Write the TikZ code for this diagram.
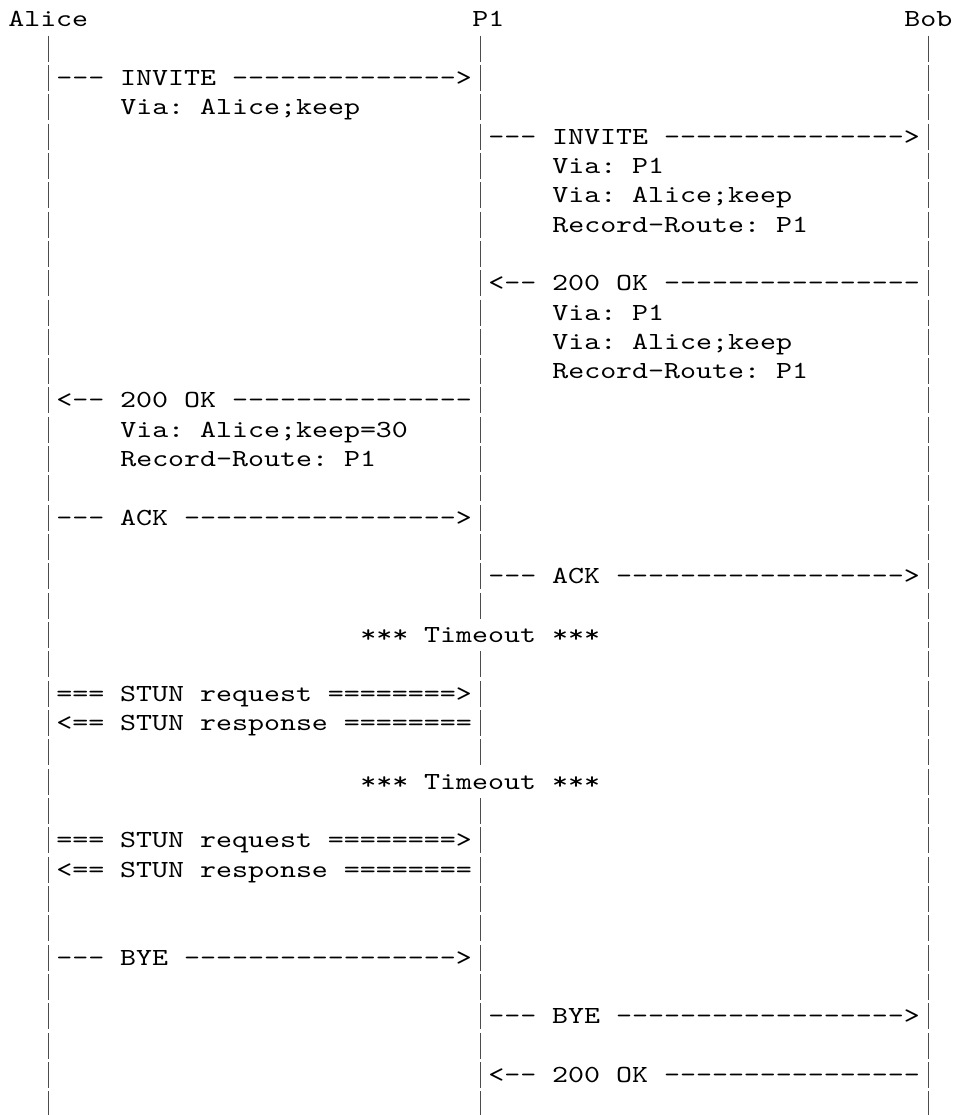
\documentclass[tikz,border=0pt]{standalone}
\usepackage{fontspec}
\setmonofont{lmmono10-regular.otf}[FakeStretch=1.24]
\usepackage{tikz}

% grid of the character cells: column -> x, row -> baseline y
\newcommand{\gx}[1]{8.3+16*(#1)}
\newcommand{\gy}[1]{-26.7-29.33*(#1)}

\begin{document}
\begin{tikzpicture}[
    x=1pt, y=1pt,
    txt/.style={font=\ttfamily\fontsize{24.55}{29.33}\selectfont\frenchspacing, anchor=base west, inner sep=0pt, outer sep=0pt},
    lifeline/.style={line width=1.5pt, draw=black!70, dash pattern=on 26pt off 3.33pt}
]
    \useasboundingbox (0,0) rectangle (956,-1115);

    % Heads
    \node[txt] (alice) at ({\gx{0}},{\gy{0}})  {Alice};
    \node[txt] (pone)  at ({\gx{29}},{\gy{0}}) {P1};
    \node[txt] (bob)   at ({\gx{56}},{\gy{0}}) {Bob};

    % Lifelines (P1 is broken where the timeouts cross it)
    \coordinate (alice-top) at ({\gx{2.5}},{\gy{1}+20.5});
    \coordinate (alice-end) at ({\gx{2.5}},-1115);
    \coordinate (bob-top)   at ({\gx{57.5}},{\gy{1}+20.5});
    \coordinate (bob-end)   at ({\gx{57.5}},-1115);
    \coordinate (pone-top)  at ({\gx{29.5}},{\gy{1}+20.5});
    \coordinate (pone-cut1) at ({\gx{29.5}},{\gy{20}-5.5});
    \coordinate (pone-mid)  at ({\gx{29.5}},{\gy{22}+20.5});
    \coordinate (pone-cut2) at ({\gx{29.5}},{\gy{25}-5.5});
    \coordinate (pone-low)  at ({\gx{29.5}},{\gy{27}+20.5});
    \coordinate (pone-end)  at ({\gx{29.5}},-1115);
    \draw[lifeline] (alice-top) -- (alice-end);
    \draw[lifeline] (bob-top)   -- (bob-end);
    \draw[lifeline] (pone-top)  -- (pone-cut1);
    \draw[lifeline] (pone-mid)  -- (pone-cut2);
    \draw[lifeline] (pone-low)  -- (pone-end);

    % INVITE
    \node[txt] (invite1) at ({\gx{3}},{\gy{2}})  {--- INVITE -------------->};
    \node[txt] (via1)    at ({\gx{7}},{\gy{3}})  {Via: Alice;keep};
    \node[txt] (invite2) at ({\gx{30}},{\gy{4}}) {--- INVITE --------------->};
    \node[txt] (via2)    at ({\gx{34}},{\gy{5}}) {Via: P1};
    \node[txt] (via3)    at ({\gx{34}},{\gy{6}}) {Via: Alice;keep};
    \node[txt] (rr1)     at ({\gx{34}},{\gy{7}}) {Record-Route: P1};

    % 200 OK
    \node[txt] (ok1)  at ({\gx{30}},{\gy{9}})  {<-- 200 OK ----------------};
    \node[txt] (via4) at ({\gx{34}},{\gy{10}}) {Via: P1};
    \node[txt] (via5) at ({\gx{34}},{\gy{11}}) {Via: Alice;keep};
    \node[txt] (rr2)  at ({\gx{34}},{\gy{12}}) {Record-Route: P1};
    \node[txt] (ok2)  at ({\gx{3}},{\gy{13}})  {<-- 200 OK ---------------};
    \node[txt] (via6) at ({\gx{7}},{\gy{14}})  {Via: Alice;keep=30};
    \node[txt] (rr3)  at ({\gx{7}},{\gy{15}})  {Record-Route: P1};

    % ACK
    \node[txt] (ack1) at ({\gx{3}},{\gy{17}})  {--- ACK ----------------->};
    \node[txt] (ack2) at ({\gx{30}},{\gy{19}}) {--- ACK ------------------>};

    % Keep-alive
    \node[txt] (tmo1)     at ({\gx{22}},{\gy{21}}) {*** Timeout ***};
    \node[txt] (stunreq1) at ({\gx{3}},{\gy{23}})  {=== STUN request ========>};
    \node[txt] (stunres1) at ({\gx{3}},{\gy{24}})  {<== STUN response ========};
    \node[txt] (tmo2)     at ({\gx{22}},{\gy{26}}) {*** Timeout ***};
    \node[txt] (stunreq2) at ({\gx{3}},{\gy{28}})  {=== STUN request ========>};
    \node[txt] (stunres2) at ({\gx{3}},{\gy{29}})  {<== STUN response ========};

    % BYE
    \node[txt] (bye1) at ({\gx{3}},{\gy{32}})  {--- BYE ----------------->};
    \node[txt] (bye2) at ({\gx{30}},{\gy{34}}) {--- BYE ------------------>};
    \node[txt] (ok3)  at ({\gx{30}},{\gy{36}}) {<-- 200 OK ----------------};

\end{tikzpicture}
\end{document}
